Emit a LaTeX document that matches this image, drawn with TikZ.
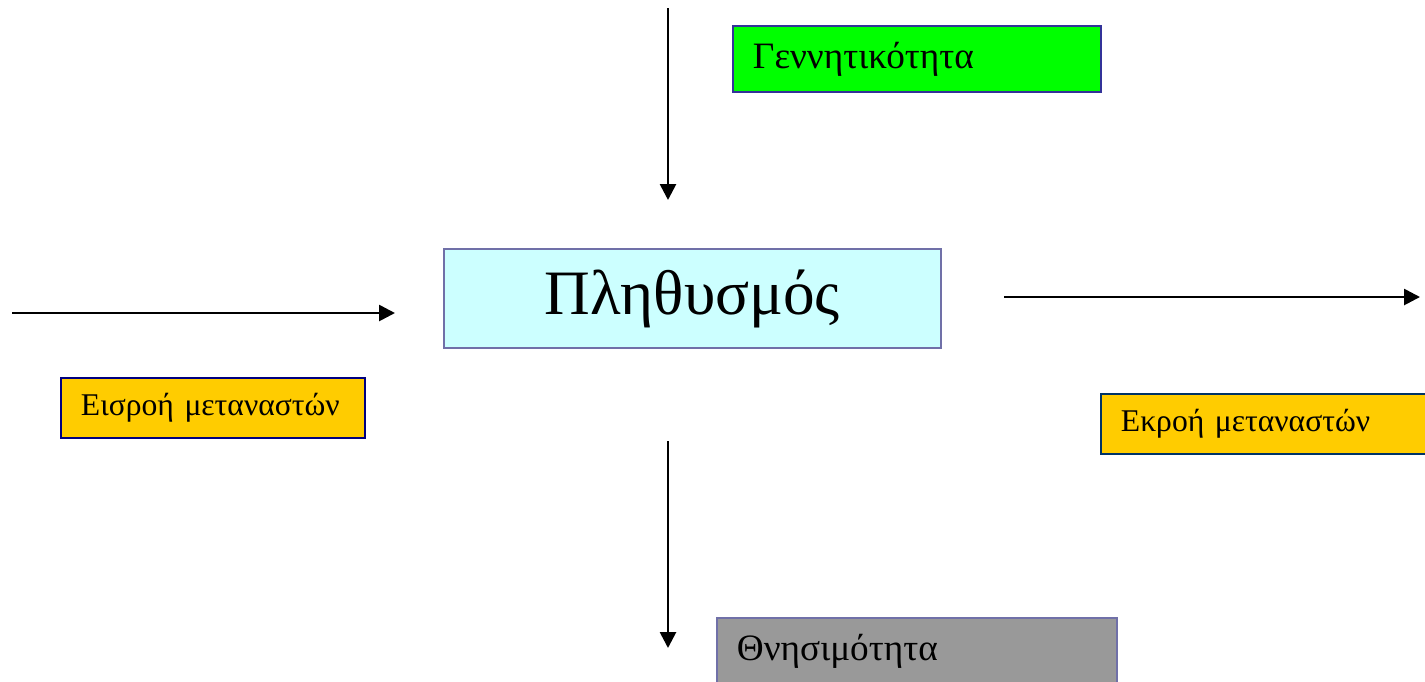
\documentclass[tikz,border=0pt]{standalone}
\usepackage{fontspec}
\setmainfont{Liberation Serif}
\usetikzlibrary{arrows.meta}
\definecolor{birthgreen}{HTML}{00FF00}
\definecolor{migyellow}{HTML}{FFCC00}
\definecolor{popcyan}{HTML}{CCFFFF}
\definecolor{deathgray}{HTML}{999999}
\definecolor{edgeblue}{HTML}{333399}
\definecolor{edgeslate}{HTML}{7070A8}
\definecolor{edgenavy}{HTML}{000080}
\definecolor{edgedeep}{HTML}{003366}
\begin{document}
\begin{tikzpicture}[x=0.02cm,y=-0.02cm,
    box/.style={draw,line width=1.1pt,anchor=north west,inner xsep=0.4cm,inner ysep=0pt,
        align=left,font=\fontsize{21.2}{25}\selectfont},
    migbox/.style={box,fill=migyellow,font=\fontsize{18}{22}\selectfont},
    flow/.style={-{Triangle[length=9pt,width=9pt]},line width=1.5pt}]
    \path [use as bounding box,clip] (0,0) rectangle (1425,681);
    % population
    \node [box,fill=popcyan,draw=edgeslate,inner xsep=0pt,align=center,minimum width=9.94cm,minimum height=1.98cm,
        font=\fontsize{36}{42}\selectfont] (pop) at (443,248) {Πληθυσμός};
    % flows in and out
    \node [box,fill=birthgreen,draw=edgeblue,text width=6.56cm,minimum height=1.32cm] (birth) at (732,25) {\mbox{Γεννητικότητα}};
    \node [migbox,draw=edgenavy,text width=5.28cm,minimum height=1.2cm] (immig) at (60,377) {\mbox{Εισροή μεταναστών}};
    \node [migbox,draw=edgedeep,text width=6cm,minimum height=1.2cm] (emig) at (1100,393) {\mbox{Εκροή μεταναστών}};
    \node [box,fill=deathgray,draw=edgeslate,text width=7.2cm,minimum height=1.32cm] (death) at (716,617) {\mbox{Θνησιμότητα}};
    \coordinate (birthS) at (668,8);
    \coordinate (birthE) at (668,200);
    \coordinate (inS) at (12,313);
    \coordinate (inE) at (395,313);
    \coordinate (outS) at (1004,297);
    \coordinate (outE) at (1420,297);
    \coordinate (deathS) at (668,441);
    \coordinate (deathE) at (668,648);
    \draw [flow] (birthS) -- (birthE);
    \draw [flow] (inS) -- (inE);
    \draw [flow] (outS) -- (outE);
    \draw [flow] (deathS) -- (deathE);
\end{tikzpicture}
\end{document}
